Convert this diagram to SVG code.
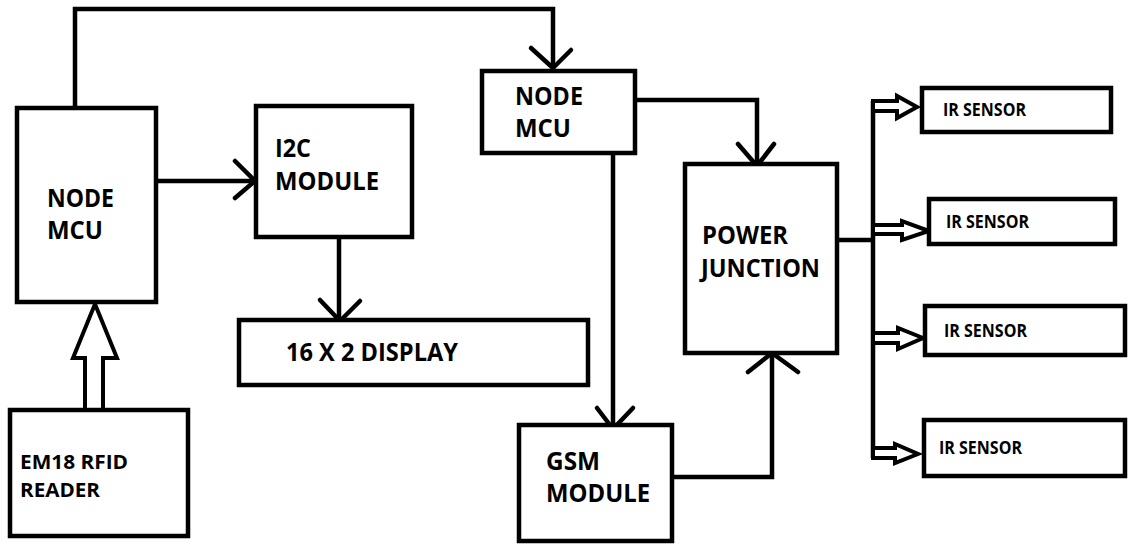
<svg xmlns="http://www.w3.org/2000/svg" width="1128" height="544" viewBox="0 0 1128 544">
<style>
.box{fill:#fff;stroke:#000;stroke-width:4.5}
.ln{fill:none;stroke:#000;stroke-width:4.5;stroke-linejoin:miter}
.ah{fill:none;stroke:#000;stroke-width:4.5;stroke-linecap:round;stroke-linejoin:round}
.ha{fill:#fff;stroke:#000;stroke-width:4;stroke-linejoin:miter}
.t{font-family:"Open Sans","Liberation Sans",sans-serif;font-weight:bold;font-size:25px;fill:#000}
.r{font-family:"Open Sans","Liberation Sans",sans-serif;font-weight:bold;font-size:20px;fill:#000}
.s{font-family:"Open Sans","Liberation Sans",sans-serif;font-weight:bold;font-size:17px;fill:#000}
</style>
<rect width="1128" height="544" fill="#fff"/>
<g id="connectors">
<path class="ln" d="M75,108 V9 H553 V68"/>
<path class="ah" d="M531,48 L553,68 L571,50"/>
<path class="ln" d="M156,181 H255"/>
<path class="ah" d="M235,161 L255,181 L235,198"/>
<path class="ln" d="M339,237 V320"/>
<path class="ah" d="M320,300 L340,321 L360,301"/>
<path class="ln" d="M635,100 H757 V165"/>
<path class="ah" d="M738,144 L757,166 L774,144"/>
<path class="ln" d="M613,153 V429"/>
<path class="ah" d="M597,408 L613,429 L633,408"/>
<path class="ln" d="M672,477 H772 V353"/>
<path class="ah" d="M748,372 L772,353 L798,372"/>
<path class="ln" d="M837,240 H873"/>
<path class="ln" d="M873,101 V458"/>
<polygon class="ha" points="873,101 897,101 897,96 917,107 897,118 897,111 873,111"/>
<polygon class="ha" points="873,225 902,225 902,221 929,231 902,240 902,234 873,234"/>
<polygon class="ha" points="873,333 898,333 898,328 923,338 898,349 898,343 873,343"/>
<polygon class="ha" points="873,448 895,448 895,444 918,454 895,463 895,458 873,458"/>
<polygon class="ha" points="85,410 85,358 73,358 95,304 117,358 103,358 103,410"/>
</g>
<g id="nodemcu1">
<rect class="box" x="17" y="108" width="139" height="194"/>
<text class="t" x="47" y="207" textLength="67" lengthAdjust="spacingAndGlyphs">NODE</text>
<text class="t" x="47" y="239" textLength="56" lengthAdjust="spacingAndGlyphs">MCU</text>
</g>
<g id="i2c">
<rect class="box" x="256" y="106" width="156" height="131"/>
<text class="t" x="275" y="157" textLength="36" lengthAdjust="spacingAndGlyphs">I2C</text>
<text class="t" x="275" y="190" textLength="104" lengthAdjust="spacingAndGlyphs">MODULE</text>
</g>
<g id="display">
<rect class="box" x="239" y="320" width="349" height="65"/>
<text class="t" x="286" y="361" textLength="172" lengthAdjust="spacingAndGlyphs">16 X 2 DISPLAY</text>
</g>
<g id="rfid">
<rect class="box" x="10" y="410" width="178" height="126"/>
<text class="r" x="20" y="469" textLength="108" lengthAdjust="spacingAndGlyphs">EM18 RFID</text>
<text class="r" x="20" y="497" textLength="80" lengthAdjust="spacingAndGlyphs">READER</text>
</g>
<g id="nodemcu2">
<rect class="box" x="482" y="71" width="153" height="82"/>
<text class="t" x="515" y="105" textLength="68" lengthAdjust="spacingAndGlyphs">NODE</text>
<text class="t" x="515" y="137" textLength="56" lengthAdjust="spacingAndGlyphs">MCU</text>
</g>
<g id="power">
<rect class="box" x="685" y="164" width="152" height="189"/>
<text class="t" x="702" y="244" textLength="86" lengthAdjust="spacingAndGlyphs">POWER</text>
<text class="t" x="701" y="277" textLength="119" lengthAdjust="spacingAndGlyphs">JUNCTION</text>
</g>
<g id="gsm">
<rect class="box" x="519" y="425" width="153" height="116"/>
<text class="t" x="546" y="470" textLength="54" lengthAdjust="spacingAndGlyphs">GSM</text>
<text class="t" x="546" y="502" textLength="104" lengthAdjust="spacingAndGlyphs">MODULE</text>
</g>
<g id="ir1">
<rect class="box" x="922" y="88" width="189" height="44"/>
<text class="s" x="943" y="116" textLength="83" lengthAdjust="spacingAndGlyphs">IR SENSOR</text>
</g>
<g id="ir2">
<rect class="box" x="929" y="199" width="186" height="45"/>
<text class="s" x="946" y="228" textLength="83" lengthAdjust="spacingAndGlyphs">IR SENSOR</text>
</g>
<g id="ir3">
<rect class="box" x="925" y="306" width="200" height="49"/>
<text class="s" x="944" y="337" textLength="83" lengthAdjust="spacingAndGlyphs">IR SENSOR</text>
</g>
<g id="ir4">
<rect class="box" x="924" y="420" width="201" height="56"/>
<text class="s" x="939" y="454" textLength="83" lengthAdjust="spacingAndGlyphs">IR SENSOR</text>
</g>
</svg>
